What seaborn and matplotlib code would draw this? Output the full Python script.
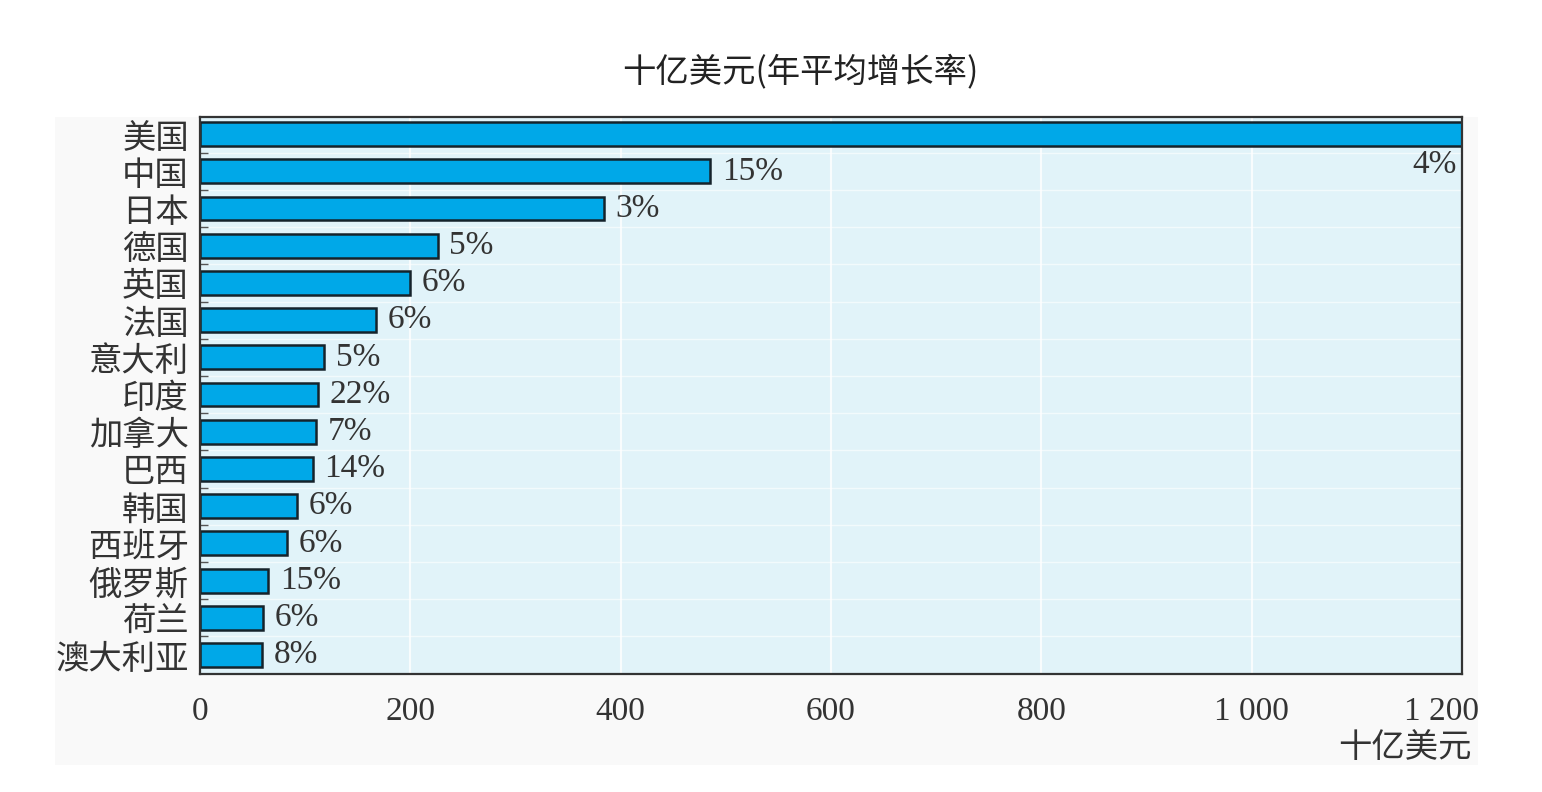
import matplotlib
matplotlib.use("Agg")
import matplotlib.pyplot as plt
import matplotlib.transforms as mtransforms
import seaborn as sns
import pandas as pd
import numpy as np
from matplotlib.patches import Rectangle

countries = ["美国", "中国", "日本", "德国", "英国", "法国", "意大利", "印度",
             "加拿大", "巴西", "韩国", "西班牙", "俄罗斯", "荷兰", "澳大利亚"]
values = [1200, 485, 384, 226, 200, 167, 118, 112, 110, 107, 92, 83, 65, 60, 59]
growth = ["4%", "15%", "3%", "5%", "6%", "6%", "5%", "22%", "7%", "14%",
          "6%", "6%", "15%", "6%", "8%"]
xticks = [0, 200, 400, 600, 800, 1000, 1200]
xticklabels = ["0", "200", "400", "600", "800", "1 000", "1 200"]

df = pd.DataFrame({"country": countries, "value": values})

sns.set_theme(style="white")
plt.rcParams['font.family'] = ['Noto Sans CJK SC', 'DejaVu Sans']

W, H = 1542, 792
fig = plt.figure(figsize=(W / 100, H / 100), dpi=100)
fig.patch.set_facecolor("white")
# faint outer panel
fig.patches.append(Rectangle((55 / W, 1 - 765 / H), (1478 - 55) / W, (765 - 117) / H,
                             transform=fig.transFigure, facecolor="#f9f9f9",
                             edgecolor="none", zorder=-10))

ax = fig.add_axes([200 / W, 1 - 674 / H, (1462 - 200) / W, (674 - 117) / H])
ax.set_zorder(1)
ax.set_facecolor("#e1f3f9")

sns.barplot(data=df, y="country", x="value", orient="h", color="#00a8e8",
            saturation=1, edgecolor="#15232b", linewidth=1.8, width=0.64, ax=ax)

ax.set_xlim(0, 1200)
ax.set_ylim(14.51, -0.46)

# grid lines
for xt in xticks[1:-1]:
    ax.axvline(xt, color="white", lw=1.5, alpha=0.8, zorder=0.5)
for yb in np.arange(0.5, 14.5, 1.0):
    ax.axhline(yb, color="white", lw=1.0, alpha=0.6, zorder=0.5)

# percentage labels
serif = ['Liberation Serif', 'DejaVu Serif']
for i, (v, g) in enumerate(zip(values, growth)):
    if i == 0:
        ax.text(1195, i + 0.42, g, ha="right", va="top", fontsize=24,
                family=serif, color="#333333")
    else:
        ax.text(v + 11, i, g, ha="left", va="center", fontsize=24,
                family=serif, color="#333333")

ax.set_xticks(xticks)
ax.set_xticklabels(xticklabels, family=serif, fontsize=24, color="#333333")
ax.tick_params(axis="x", direction="in", length=6, width=1, color="#333333", pad=16)
last = ax.get_xticklabels()[-1]
last.set_transform(last.get_transform() +
                   mtransforms.ScaledTranslation(-20 / 100, 0, fig.dpi_scale_trans))
ax.set_yticks(np.arange(0.5, 14.5, 1.0), minor=True)
ax.tick_params(axis="y", which="minor", direction="in", length=6, width=1, color="#555555", left=True)
ax.tick_params(axis="y", which="major", length=0, pad=8, labelsize=24, labelcolor="#333333")
ax.set_ylabel("")
ax.set_xlabel("")

for s in ax.spines.values():
    s.set_visible(True)
    s.set_color("#333333")
    s.set_linewidth(1.6)

fig.text(800 / W, 1 - 72 / H, "十亿美元(年平均增长率)", ha="center", va="center",
         fontsize=24, color="#222222")
fig.text(1472 / W, 1 - 747 / H, "十亿美元", ha="right", va="center",
         fontsize=24, color="#333333")

fig.savefig("out.png", dpi=100)
